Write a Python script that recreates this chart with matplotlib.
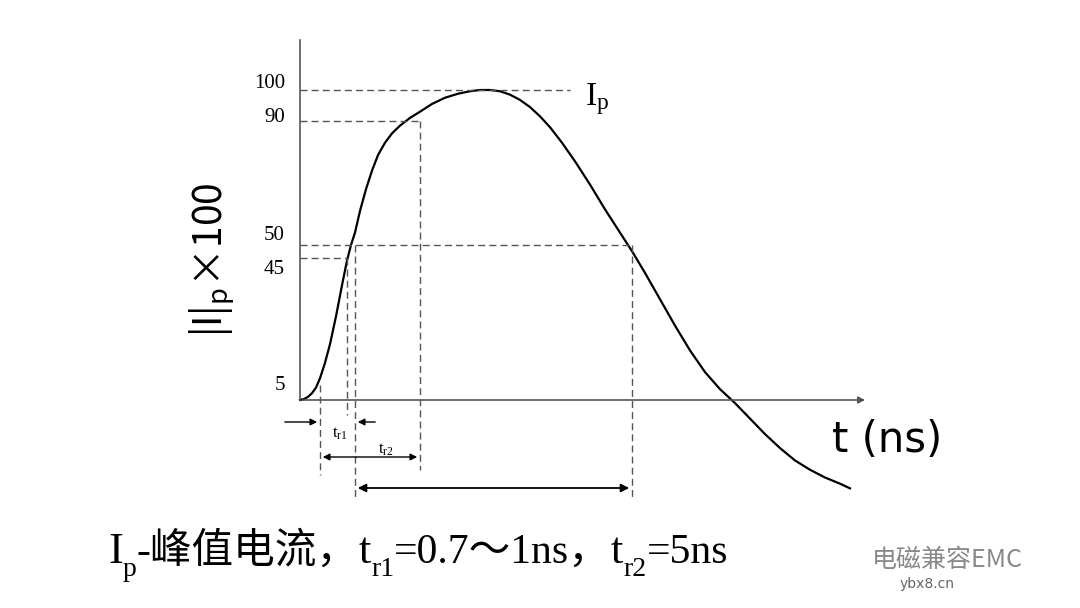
import matplotlib.pyplot as plt

plt.rcParams['font.family'] = ['Liberation Serif', 'Noto Sans CJK SC', 'DejaVu Sans']

# curve: time (pixel units of the sketch) and |I|/Ip x100
t = [300, 304, 308, 312, 316, 320, 325, 330, 336, 342, 347, 351, 355, 360, 366, 372, 378,
     385, 392, 400, 410, 420, 432, 445, 458, 470, 480, 490, 500, 510, 520, 530, 540, 550,
     562, 575, 590, 605, 620, 632, 645, 660, 675, 690, 705, 720, 735, 750, 765, 780, 795,
     810, 825, 840, 850]
i = [0, 0.3, 1, 2.2, 4, 7, 12, 18, 27, 37, 45, 50, 54, 61, 68, 74, 79,
     83, 86, 88.5, 91, 93, 95.5, 97.5, 98.8, 99.6, 100, 100, 99.6, 98.5, 96.8, 94.5, 91.5, 88,
     83, 77, 69.5, 61.5, 54, 48, 41, 32.5, 24, 16, 9, 3.5, -1, -6, -11, -15.5, -19.5,
     -22.5, -25, -27, -28.5]
levels = [100, 90, 50, 45, 5]
level_labels = ['100', '90', '50', '45', '5']
label_px = [84, 118, 236, 269, 386]   # label positions as drawn in the sketch (pixels from top)
t_cross = [570, 420, 632, 347]        # end of horizontal dashed guides
t_rise10, t_rise45, t_rise50, t_rise90, t_fall50 = 320, 347, 355, 420, 632

px_per = 3.1
fig = plt.figure(figsize=(10.8, 6.08), dpi=100)
ax = fig.add_axes([0, 0, 1, 1])
ax.set_xlim(0, 1080)
ax.set_ylim(-208 / px_per, 400 / px_per)
ax.axis('off')

def v(px):  # pixel offset from baseline -> value units
    return px / px_per

ax.plot(t, i, color='black', lw=1.6)
ax.plot([300, 300], [0, v(360)], color='#555555', lw=1.2)
ax.annotate('', xy=(868, 0), xytext=(300, 0),
            arrowprops=dict(arrowstyle='-|>', color='#555555', lw=1.2))

dash = dict(color='#555555', lw=1, ls=(0, (5, 3)))
y45 = v(400 - 258)
for lv, te in zip(levels[:4], t_cross):
    yy = y45 if lv == 45 else lv
    ax.plot([300, te], [yy, yy], **dash)
for lab, lp in zip(level_labels, label_px):
    ax.text(285, v(400 - lp), lab, ha='right', va='center', fontsize=15)

ax.plot([t_rise10, t_rise10], [5, v(-75)], **dash)
ax.plot([t_rise45, t_rise45], [y45, v(-15)], **dash)
ax.plot([t_rise50, t_rise50], [50, v(-100)], **dash)
ax.plot([t_rise90, t_rise90], [90, v(-70)], **dash)
ax.plot([t_fall50, t_fall50], [50, v(-100)], **dash)

ap = dict(arrowstyle='-|>', color='black', lw=1, mutation_scale=10)
ax.annotate('', xy=(t_rise10, v(-22)), xytext=(282, v(-22)), arrowprops=ap)
ax.annotate('', xy=(t_rise50, v(-22)), xytext=(378, v(-22)), arrowprops=ap)
ax.text(340, v(-34), r'$\mathregular{t_{r1}}$', ha='center', va='center', fontsize=12)
ax.annotate('', xy=(t_rise10, v(-57)), xytext=(t_rise90, v(-57)),
            arrowprops=dict(arrowstyle='<|-|>', color='black', lw=1, mutation_scale=10))
ax.text(386, v(-50), r'$\mathregular{t_{r2}}$', ha='center', va='center', fontsize=12)
ax.annotate('', xy=(t_rise50, v(-88)), xytext=(t_fall50, v(-88)),
            arrowprops=dict(arrowstyle='<|-|>', color='black', lw=1.3, mutation_scale=12))

ax.text(585, 97, r'$\mathregular{I_p}$', fontsize=24, va='center')
ax.text(832, v(-40), 't (ns)', fontsize=30, va='center', family='DejaVu Sans')
ax.text(212, v(400 - 260), r'$\mathregular{|I|_p}$×100', rotation=90, fontsize=28,
        ha='center', va='center', family=['Noto Sans CJK SC', 'DejaVu Sans'])

# bottom caption, pieces chained one after another
pieces = [('I', 32, 0), ('p', 20, -7), ('-峰值电流，', 30, 7), ('t', 32, 0), ('r1', 20, -7),
          ('=0.7～1ns，', 30, 7), ('t', 32, 0), ('r2', 20, -7), ('=5ns', 30, 7)]
prev = None
for s, fs, dy in pieces:
    fam = ['Liberation Serif', 'Noto Sans CJK SC']
    if prev is None:
        prev = ax.text(108, v(-172), s, fontsize=fs, va='bottom', family=fam)
    else:
        prev = ax.annotate(s, xy=(1, 0), xycoords=prev, xytext=(0, dy),
                           textcoords='offset points', fontsize=fs, va='bottom', family=fam)

ax.text(872, v(-160), '电磁兼容EMC', fontsize=18, color='#888888', va='center',
        family=['Noto Sans CJK SC'])
ax.text(900, v(-184), 'ybx8.cn', fontsize=10, color='#666666', va='center',
        family='DejaVu Sans')

fig.savefig('out.png', dpi=100)
